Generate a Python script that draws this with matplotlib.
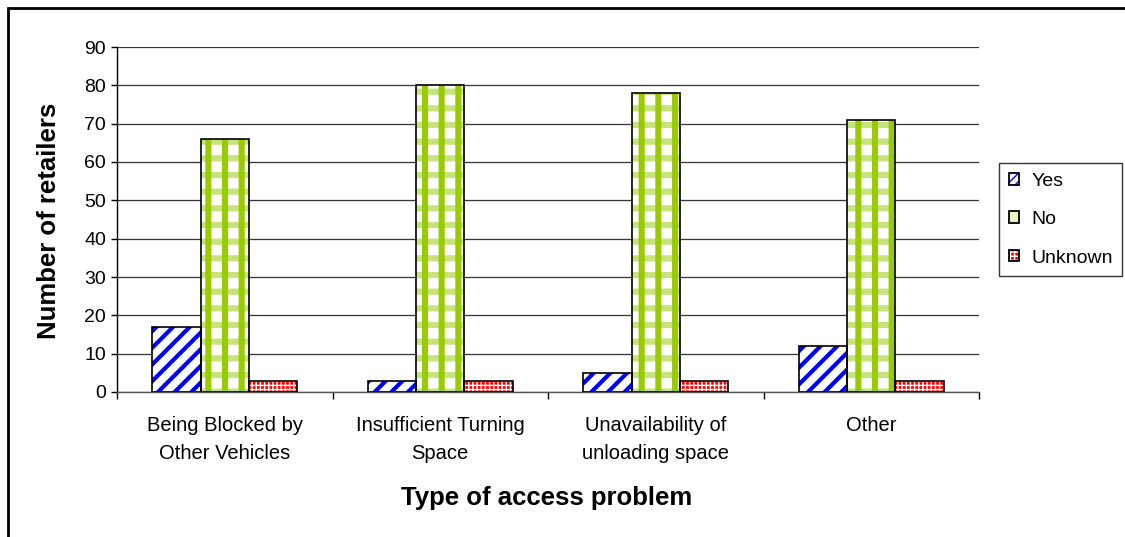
import matplotlib
matplotlib.use("Agg")
import matplotlib.pyplot as plt
import numpy as np
from matplotlib.patches import Rectangle, Patch
from matplotlib.legend_handler import HandlerTuple

# Survey results: access problems reported by retailers
categories = ["Being Blocked by\nOther Vehicles", "Insufficient Turning\nSpace",
              "Unavailability of\nunloading space", "Other"]
yes = [17, 3, 5, 12]
no = [66, 80, 78, 71]
unknown = [3, 3, 3, 3]
series_names = ["Yes", "No", "Unknown"]
y_ticks = list(range(0, 100, 10))

plt.rcParams['font.family'] = ['Liberation Sans', 'DejaVu Sans']

W, H = 1125, 537
fig = plt.figure(figsize=(W / 100, H / 100), dpi=100)
ax = fig.add_axes([117 / W, 1 - 392 / H, (979 - 117) / W, (392 - 47) / H])

x = np.arange(len(categories))
bw = 0.225

# fill colour and hatch layers (pattern, colour, line width) for each series
styles = {
    "Yes": ("white", [("//", "#0000ff", 3.0)]),
    "No": ("white", [("-", "#c8e27e", 4.5), ("|", "#99cc00", 4.4)]),
    "Unknown": ("#ff0000", [("++++", "white", 1.0)]),
}
# smaller swatches for the legend
legend_styles = {
    "Yes": ("white", [("////", "#0000ff", 2.0)]),
    "No": ("#e6f3bf", []),
    "Unknown": ("#ff0000", [("++++", "white", 1.2)]),
}


def with_hatch_lw(artist, lw):
    if hasattr(artist, "set_hatch_linewidth"):
        artist.set_hatch_linewidth(lw)
    return artist


def hatched(xpos, vals, face, layers, zbase=2):
    ax.bar(xpos, vals, bw, color=face, edgecolor="none", linewidth=0, zorder=zbase)
    for hatch, col, lw in layers:
        with plt.rc_context({"hatch.linewidth": lw, "hatch.color": col}):
            bars = ax.bar(xpos, vals, bw, fill=False, hatch=hatch, edgecolor=col,
                          linewidth=0, zorder=zbase + 0.5)
            for b in bars:
                with_hatch_lw(b, lw)
    ax.bar(xpos, vals, bw, fill=False, edgecolor="black", linewidth=1.2, zorder=zbase + 1)


for offset, name, vals in zip((-bw, 0, bw), series_names, (yes, no, unknown)):
    face, layers = styles[name]
    hatched(x + offset, vals, face, layers)

ax.set_xlim(-0.5, len(categories) - 0.5)
ax.set_ylim(0, 90)
ax.set_yticks(y_ticks)
ax.tick_params(axis="y", length=4, width=1, direction="out", labelsize=14, pad=4)
ax.set_xticks(x)
ax.set_xticklabels(categories, fontsize=14.5, linespacing=1.65)
ax.set_xticks(np.arange(-0.5, len(categories)), minor=True)
ax.tick_params(axis="x", which="major", length=0, pad=17)
ax.tick_params(axis="x", which="minor", length=5, width=1, direction="out")

ax.yaxis.grid(True, color="#333333", linewidth=0.9, zorder=0)
ax.set_axisbelow(True)
for side in ("top", "right"):
    ax.spines[side].set_visible(False)
ax.spines["left"].set_linewidth(1.0)
ax.spines["bottom"].set_linewidth(1.0)
ax.spines["bottom"].set_color("#555555")

fig.text(49 / W, 1 - 221 / H, "Number of retailers", rotation=90, ha="center",
         va="center", fontsize=18.5, fontweight="bold")
fig.text(547 / W, 1 - 505 / H, "Type of access problem", ha="center",
         va="baseline", fontsize=18.5, fontweight="bold")

# legend swatches: fill, hatch layers and a black outline stacked together
handles = []
for name in series_names:
    face, layers = legend_styles[name]
    parts = [Patch(facecolor=face, edgecolor="none")]
    for hatch, col, lw in layers:
        with plt.rc_context({"hatch.linewidth": lw, "hatch.color": col}):
            parts.append(with_hatch_lw(Patch(fill=False, hatch=hatch, edgecolor=col,
                                             linewidth=0), lw))
    parts.append(Patch(fill=False, edgecolor="black", linewidth=1.3))
    handles.append(tuple(parts))

leg = fig.legend(handles, series_names, loc="upper left",
                 bbox_to_anchor=(999 / W, 1 - 163 / H), borderaxespad=0,
                 fontsize=14, frameon=True, fancybox=False, edgecolor="black",
                 handlelength=0.55, handleheight=0.55, handletextpad=0.6,
                 labelspacing=1.1, borderpad=0.5,
                 handler_map={tuple: HandlerTuple(ndivide=1, pad=0)})
leg.get_frame().set_linewidth(1.0)

# chart area border
fig.add_artist(Rectangle((7.5 / W, -0.5), 2.0, 1.5 - 7.5 / H, transform=fig.transFigure,
                         fill=False, edgecolor="black", linewidth=2.0))

fig.savefig("out.png", dpi=100)
